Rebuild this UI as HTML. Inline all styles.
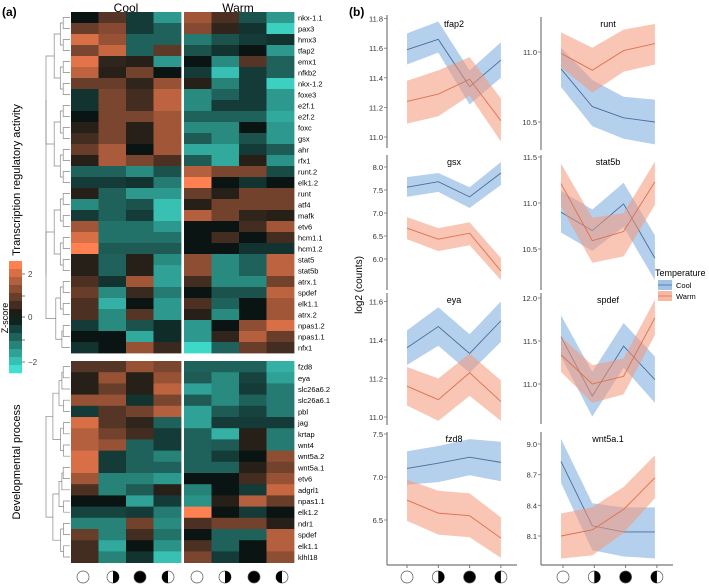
<!DOCTYPE html>
<html><head><meta charset="utf-8"><style>
body{margin:0;background:#fff;}
svg{display:block;font-family:"Liberation Sans",sans-serif;}
</style></head><body>
<svg id="fig" width="709" height="584" viewBox="0 0 709 584" xmlns="http://www.w3.org/2000/svg">
<text x="2" y="16" font-size="12" font-weight="bold">(a)</text>
<text x="349" y="16" font-size="12" font-weight="bold">(b)</text>
<text x="126" y="12" font-size="12" text-anchor="middle">Cool</text>
<text x="238" y="12" font-size="12" text-anchor="middle">Warm</text>
<text transform="translate(20,180) rotate(-90)" font-size="11" text-anchor="middle">Transcription regulatory activity</text>
<text transform="translate(20,462) rotate(-90)" font-size="11" text-anchor="middle">Developmental process</text>
<text transform="translate(8,318) rotate(-90)" font-size="9" text-anchor="middle">Z-score</text>
<text transform="translate(362,285) rotate(-90)" font-size="10" text-anchor="middle">log2 (counts)</text>
<g id="hm"></g>
<g id="dend"></g>
<g id="cbar"></g>
<g id="lines"></g>
<g id="legend">
<text x="655" y="276" font-size="9">Temperature</text>
<rect x="658" y="280" width="14" height="10" fill="rgb(160,196,232)"/>
<line x1="658" y1="285" x2="672" y2="285" stroke="#4a6e9a" stroke-width="0.8"/>
<text x="676" y="288" font-size="7.5">Cool</text>
<rect x="658" y="291" width="14" height="10" fill="rgb(246,184,164)"/>
<line x1="658" y1="296" x2="672" y2="296" stroke="#e0704a" stroke-width="0.8"/>
<text x="676" y="299" font-size="7.5">Warm</text>
</g>
</svg>
<script>
const NS='http://www.w3.org/2000/svg';
const topGenes=['nkx-1.1','pax3','hmx3','tfap2','emx1','nfkb2','nkx-1.2','foxe3','e2f.1','e2f.2','foxc','gsx','ahr','rfx1','runt.2','elk1.2','runt','atf4','mafk','etv6','hcm1.1','hcm1.2','stat5','stat5b','atrx.1','spdef','elk1.1','atrx.2','npas1.2','npas1.1','nfx1'];
const topValues=[
[0,0.8,-0.5,-1.7,1.6,0.7,-0.8,-1.7],[1.0,1.3,-0.5,-1.0,1.3,0.4,-0.4,-2.4],[2.2,1.5,-1.0,-1.0,-1.3,-0.8,-0.5,-0.4],[1.2,2.0,-1.0,0.9,-0.8,-0.4,0,-1.7],
[2.3,0.4,0.3,-1.7,0,-1.5,0.8,-1.0],[1.9,0.3,1.1,0,-0.5,-2.2,-0.5,-1.0],[1.0,1.0,0.4,1.5,0.3,-1.4,-0.5,-2.4],[-0.4,1.2,0.6,1.9,-1.5,-1.0,-0.5,-1.7],
[-0.4,1.2,0.6,1.9,-1.5,-0.5,-0.5,-1.7],[0,1.2,1.2,1.6,-1.0,-1.0,-1.0,-1.9],[0.3,1.2,0.3,1.6,-1.5,-1.5,0,-1.7],[0.6,1.2,0.3,1.6,-0.9,-1.5,-0.8,-1.7],
[1.0,1.7,0,1.6,-1.9,-1.9,-0.5,-0.9],[0.3,1.7,1.2,0.7,-0.9,-1.9,0.3,-1.6],[-1.0,-1.0,-1.5,-0.8,1.8,1.2,1.2,-0.7],[-0.5,-0.5,-0.4,-1.3,2.6,0,-0.4,0],
[0.3,-1.0,-1.7,-1.7,1.0,0.3,1.1,1.1],[-1.5,-1.0,-0.8,-2.2,0.3,1.1,1.1,1.1],[-0.5,-1.0,-0.5,-2.2,1.8,1.1,0.4,0.3],[1.6,-1.2,-1.2,-1.7,0,0,0.6,1.6],
[2.2,-1.2,-1.2,-1.2,0,0.6,0,0.6],[2.6,-0.9,-0.9,-0.9,0,0,-0.4,-0.4],[0.3,-1.0,0.3,-1.5,1.4,-1.5,-1.0,1.9],[0.3,-1.0,0.3,-1.8,1.4,-1.5,-1.0,1.9],
[0.7,-0.4,1.6,-1.8,0.6,-1.5,-1.5,1.1],[1.0,-1.5,0.5,-1.3,0,-0.8,-0.8,1.9],[0.7,-2.0,0,-1.7,0.7,-1.0,0,1.6],[0.7,-1.5,0.8,-1.7,0.3,-1.5,0,1.6],
[-0.5,-1.5,-0.8,-0.3,-1.7,0,1.4,2.2],[0,0,-1.9,-0.3,-1.7,0.4,1.8,1.0],[-0.4,0,1.5,0.5,-2.5,-1.0,1.0,0.6]];
const botGenes=['fzd8','eya','slc26a6.2','slc26a6.1','pbl','jag','krtap','wnt4','wnt5a.2','wnt5a.1','etv6','adgrl1','npas1.1','elk1.2','ndr1','spdef','elk1.1','klhl18'];
const botValues=[
[0.8,0.8,1.5,1.2,-1.0,-1.0,-1.0,-2.0],[0.3,1.5,0.3,1.5,-0.9,-1.5,-0.6,-1.8],[0.3,1.0,0.3,1.9,-1.8,-1.5,-0.5,-1.3],[1.5,1.5,-0.4,1.2,-0.9,-1.5,-1.0,-1.3],
[-0.5,0.8,1.1,1.8,-1.8,-0.9,-0.6,-1.3],[2.2,0.8,0.4,-1.0,-1.8,-0.5,-0.5,-0.5],[1.8,1.1,0.6,-0.5,-1.0,-2.0,0.3,-1.3],[1.8,1.5,-1.0,-0.5,-1.0,-0.9,0.3,-1.3],
[2.2,-0.5,-1.0,-1.4,-1.0,-0.5,0,1.4],[2.2,-0.5,-1.0,-1.0,-1.0,-1.0,0.3,1.1],[1.6,-1.4,-1.4,-1.7,0,0,0.6,1.5],[0.7,-1.4,-0.9,0.3,-1.4,0,-0.5,2.0],
[0,0,-1.8,-0.5,-1.6,0.3,1.8,1.0],[-0.6,-0.6,-0.5,-1.3,2.6,0,-0.5,0],[-1.4,-1.4,1.1,-1.5,0.7,1.1,1.1,0.3],[1.0,-1.4,0.6,-1.2,0,-1.0,-1.0,1.8],
[0.6,-1.9,0,-1.6,0.7,-1.0,0,1.8],[0.6,-1.4,-0.4,-2.2,1.2,-0.5,0,1.4]];
const timepoints=['open','half-left-dark','full','half-right-dark'];

function el(t,a,p){const e=document.createElementNS(NS,t);for(const k in a)e.setAttribute(k,a[k]);(p||document.getElementById('fig')).appendChild(e);return e;}
function zcol(z){z=Math.max(-2.6,Math.min(2.6,z));const t=Math.abs(z)/2.6;
 const a=[10,20,18];const b=z>=0?[255,128,80]:[64,224,208];
 return 'rgb('+a.map((v,i)=>Math.round(v+(b[i]-v)*t)).join(',')+')';}
const hm=document.getElementById('hm');
const colX=[71,98.5,126,153.5,184,211.5,239,266.5], colW=27.5;
function drawBlock(genes,vals,y0,rh,tag){
 genes.forEach((g,r)=>{vals[r].forEach((v,c)=>{
  const rc=el('rect',{x:colX[c],y:y0+r*rh,width:colW+0.4,height:rh+0.4,fill:zcol(v)},hm);
  
  
 });
 const t=el('text',{x:298,y:y0+r*rh+rh/2+3,'font-size':7.5},hm);t.textContent=g;
 
 
 });}
drawBlock(topGenes,topValues,12,11,'top');
drawBlock(botGenes,botValues,361,11.2,'bottom');
const dg=document.getElementById('dend');
function tree(y0,rh,lo,hi,xr,depth){
 if(lo===hi) return [xr,y0+lo*rh+rh/2];
 const mid=Math.floor((lo+hi)/2);
 const a=tree(y0,rh,lo,mid,xr,depth+1),b=tree(y0,rh,mid+1,hi,xr,depth+1);
 const x=xr-Math.min(24,4+(hi-lo)*1.6+depth*0.3);
 el('path',{d:`M${a[0]},${a[1]}H${x}V${b[1]}H${b[0]}`,fill:'none',stroke:'#888','stroke-width':0.7},dg);
 return [x,(a[1]+b[1])/2];}
tree(12,11,0,topGenes.length-1,70,0);
tree(361,11.2,0,botGenes.length-1,70,0);
const cb=document.getElementById('cbar');
for(let i=0;i<14;i++){const z=2.6-i*(5.2/13);const r=el('rect',{x:9,y:261+i*8,width:13,height:8.3,fill:zcol(z)},cb);
 
 }
[[2,274],[0,317],[-2,362]].forEach(([v,y])=>{el('line',{x1:22,x2:25,y1:y,y2:y,stroke:'#444','stroke-width':0.7},cb);
 const t=el('text',{x:28,y:y+3,'font-size':8,fill:'#444'},cb);t.textContent=v===-2?'\u22122':v;});
el('line',{x1:22,x2:25,y1:296,y2:296,stroke:'#444','stroke-width':0.7},cb);
el('line',{x1:22,x2:25,y1:340,y2:340,stroke:'#444','stroke-width':0.7},cb);
function circleIcon(cx,cy,type,p){
 el('circle',{cx,cy,r:6,fill:type==='full'?'#000':'#fff',stroke:'#555','stroke-width':0.7},p);
 if(type==='half-left-dark') el('path',{d:`M${cx},${cy-6}A6,6 0 0 1 ${cx},${cy+6}Z`,fill:'#000'},p);
 if(type==='half-right-dark') el('path',{d:`M${cx},${cy-6}A6,6 0 0 0 ${cx},${cy+6}Z`,fill:'#000'},p);
}
const heatCirc=[83,113,140,168,197,225,254,282];
heatCirc.forEach((x,i)=>circleIcon(x,577,timepoints[i%4]));
const genesB=['tfap2','runt','gsx','stat5b','eya','spdef','fzd8','wnt5a.1'];
const coolMean={tfap2:[11.59,11.66,11.34,11.52],runt:[10.88,10.61,10.53,10.50],gsx:[7.56,7.68,7.35,7.87],stat5b:[10.90,10.70,10.99,10.40],eya:[11.36,11.47,11.33,11.50],spdef:[11.55,10.86,11.44,11.05],fzd8:[7.10,7.16,7.23,7.17],'wnt5a.1':[8.83,8.20,8.14,8.14]};
const coolLo={tfap2:[11.49,11.57,11.22,11.40],runt:[10.75,10.47,10.38,10.34],gsx:[7.35,7.46,7.11,7.61],stat5b:[10.68,10.48,10.74,10.16],eya:[11.27,11.37,11.23,11.39],spdef:[11.32,10.62,11.19,10.78],fzd8:[6.91,6.94,7.02,6.95],'wnt5a.1':[8.62,7.96,7.90,7.88]};
const coolHi={tfap2:[11.70,11.78,11.45,11.64],runt:[11.03,10.80,10.68,10.66],gsx:[7.78,7.87,7.56,8.11],stat5b:[11.13,10.93,11.22,10.65],eya:[11.45,11.57,11.43,11.60],spdef:[11.80,11.14,11.71,11.32],fzd8:[7.30,7.36,7.44,7.41],'wnt5a.1':[9.05,8.42,8.38,8.38]};
const warmMean={tfap2:[11.24,11.29,11.39,11.11],runt:[10.99,10.87,11.01,11.06],gsx:[6.67,6.43,6.56,5.74],stat5b:[11.21,10.59,10.69,11.23],eya:[11.16,11.09,11.23,11.08],spdef:[11.34,11.00,11.09,11.77],fzd8:[6.73,6.58,6.55,6.29],'wnt5a.1':[8.10,8.16,8.36,8.67]};
const warmLo={tfap2:[11.09,11.14,11.28,10.97],runt:[10.89,10.71,10.86,10.91],gsx:[6.43,6.17,6.30,5.54],stat5b:[10.96,10.35,10.42,10.98],eya:[11.06,10.98,11.11,10.98],spdef:[11.14,10.78,10.88,11.57],fzd8:[6.49,6.33,6.30,6.06],'wnt5a.1':[7.88,7.91,8.13,8.47]};
const warmHi={tfap2:[11.38,11.45,11.54,11.26],runt:[11.14,11.03,11.16,11.20],gsx:[6.91,6.67,6.80,6.02],stat5b:[11.43,10.84,10.89,11.45],eya:[11.26,11.20,11.33,11.19],spdef:[11.55,11.22,11.30,11.98],fzd8:[6.97,6.84,6.81,6.53],'wnt5a.1':[8.32,8.38,8.58,8.89]};
const ticks={tfap2:[11.0,11.2,11.4,11.6,11.8],runt:[10.5,11.0],gsx:[6.0,6.5,7.0,7.5,8.0],stat5b:[10.5,11.0,11.5],eya:[11.0,11.2,11.4,11.6],spdef:[11.0,11.5,12.0],fzd8:[6.5,7.0,7.5],'wnt5a.1':[8.1,8.4,8.7,9.0]};
const layout={tfap2:[387,15,148,11.0,137,148],runt:[541,17,150,11.0,52,140],gsx:[387,155,290,7.0,213,46],stat5b:[541,155,290,11.0,203,92],
 eya:[387,293,425,11.0,417,192.5],spdef:[541,293,424,11.0,384,86],fzd8:[387,432,565,7.0,477,86],'wnt5a.1':[541,432,565,8.1,536,102.2]};
const lp=document.getElementById('lines');
genesB.forEach(g=>{
 const [ax,top,bot,rv,ry,ppu]=layout[g];
 const y=v=>ry-(v-rv)*ppu;
 const xs=i=>ax+20+i*31.3;
 const grp=el('g',{},lp);
 
 
 const series=[[coolLo[g],coolHi[g],coolMean[g],'rgba(120,170,222,0.55)','#4a6e9a','cool'],[warmLo[g],warmHi[g],warmMean[g],'rgba(244,150,120,0.55)','#e0704a','warm']];
 series.forEach(([lo,hi,mn,fill,stroke,nm])=>{
  let d='M'+hi.map((v,i)=>xs(i)+','+y(v)).join('L')+'L'+lo.map((v,i)=>xs(i)+','+y(v)).reverse().join('L')+'Z';
  const band=el('path',{d,fill},grp);
  
  
  const ln=el('polyline',{points:mn.map((v,i)=>xs(i)+','+y(v)).join(' '),fill:'none',stroke,'stroke-width':0.9},grp);
  
  
 });
 el('line',{x1:ax,x2:ax,y1:top,y2:bot,stroke:'#777','stroke-width':1.2},grp);
 ticks[g].forEach(v=>{const yy=y(v);el('line',{x1:ax-3,x2:ax,y1:yy,y2:yy,stroke:'#777','stroke-width':0.8},grp);
  const t=el('text',{x:ax-4,y:yy+3,'font-size':7.5,'text-anchor':'end',fill:'#333'},grp);t.textContent=v.toFixed(1);});
 const t=el('text',{x:ax+67,y:top+12-(top>15?2:0),'font-size':9,'text-anchor':'middle'},grp);t.textContent=g;
 
 
});
[[387,517,407],[541,673,563]].forEach(([a,b,x0])=>{
 el('line',{x1:a,x2:b,y1:565,y2:565,stroke:'#777','stroke-width':1.2},lp);
 for(let i=0;i<4;i++){const x=x0+i*31.3;el('line',{x1:x,x2:x,y1:565,y2:568,stroke:'#777'},lp);circleIcon(x,577,timepoints[i],lp);}
});
</script>
</body></html>
